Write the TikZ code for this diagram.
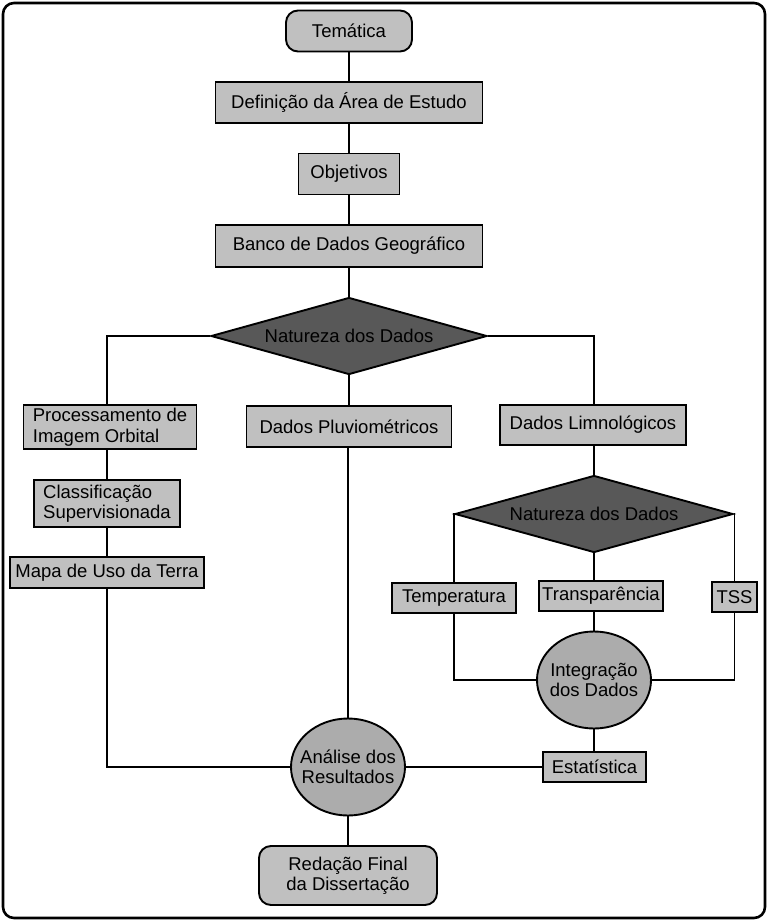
\documentclass[tikz,border=0pt]{standalone}
\usepackage{fontspec}
\setmainfont{Liberation Sans}
\usetikzlibrary{shapes.geometric}
\definecolor{boxgray}{RGB}{192,192,192}
\definecolor{ellgray}{RGB}{172,172,172}
\definecolor{diagray}{RGB}{88,88,88}

\tikzset{
  box/.style={draw, line width=1.9pt, fill=boxgray, inner sep=0pt, align=center,
    font=\fontsize{18.5}{20.5}\selectfont},
  term/.style={box, rounded corners=12pt},
  decision/.style={box, shape=diamond, fill=diagray, aspect=3.6},
  ellbox/.style={box, shape=ellipse, fill=ellgray, inner xsep=-9pt,
    minimum width=114pt, minimum height=97pt},
  conn/.style={line width=1.7pt}
}

\begin{document}
\begin{tikzpicture}[x=1pt, y=-1pt]
  \path[use as bounding box] (0, 0) rectangle (768, 921);
  \draw[line width=2.6pt, rounded corners=11pt] (3, 3) rectangle (765, 918);

  % central column
  \node[term, minimum width=126pt, minimum height=41pt] (tema) at (349, 31) {Temática};
  \node[box, minimum width=267pt, minimum height=41pt] (def) at (349, 102.5) {Definição da Área de Estudo};
  \node[box, minimum width=101pt, minimum height=41pt] (obj) at (349, 174) {Objetivos};
  \node[box, minimum width=267pt, minimum height=42pt] (banco) at (349, 246) {Banco de Dados Geográfico};
  \node[decision, minimum width=276pt, minimum height=77pt] (nat1) at (349, 336) {Natureza dos Dados};

  % left branch
  \node[box, align=left, minimum width=173pt, minimum height=44pt] (proc) at (110, 427) {Processamento de\\Imagem Orbital};
  \node[box, align=left, minimum width=146pt, minimum height=47pt] (clas) at (107, 503.5) {Classificação\\Supervisionada};
  \node[box, minimum width=194pt, minimum height=31pt] (mapa) at (107, 572.5) {Mapa de Uso da Terra};

  % middle branch
  \node[box, minimum width=205pt, minimum height=41pt] (pluv) at (349, 426.5) {Dados Pluviométricos};

  % right branch
  \node[box, minimum width=186pt, minimum height=40pt] (limn) at (593, 425) {Dados Limnológicos};
  \node[decision, minimum width=278pt, minimum height=77pt] (nat2) at (594, 514) {Natureza dos Dados};
  \node[box, minimum width=124pt, minimum height=30pt] (temp) at (454, 598) {Temperatura};
  \node[box, minimum width=124pt, minimum height=30pt] (trans) at (601, 596) {Transparência};
  \node[box, minimum width=45pt, minimum height=30pt] (tss) at (734.5, 597) {TSS};
  \node[ellbox] (integ) at (594, 680) {Integração\\dos Dados};
  \node[box, minimum width=103pt, minimum height=30pt] (est) at (594.5, 767) {Estatística};

  % bottom
  \node[ellbox] (ana) at (348, 767) {Análise dos\\Resultados};
  \node[term, minimum width=178pt, minimum height=59pt] (red) at (348, 875.5) {Redação Final\\da Dissertação};

  % connectors
  \draw[conn] (tema) -- (def);
  \draw[conn] (def) -- (obj);
  \draw[conn] (obj) -- (banco);
  \draw[conn] (banco) -- (nat1);
  \draw[conn] (nat1.west) -| (clas.north |- proc.north);
  \draw[conn] (clas.north |- proc.south) -- (clas.north);
  \draw[conn] (clas) -- (mapa);
  \draw[conn] (mapa.south) |- (ana.west);
  \draw[conn] (nat1) -- (pluv);
  \draw[conn] (pluv.south -| ana.north) -- (ana.north);
  \draw[conn] (nat1.east) -| (nat2.north |- limn.north);
  \draw[conn] (nat2.north |- limn.south) -- (nat2.north);
  \draw[conn] (nat2.west) -| (temp.north);
  \draw[conn] (nat2.east) -| (tss.north);
  \draw[conn] (nat2.south) -- (nat2.south |- trans.north);
  \draw[conn] (nat2.south |- trans.south) -- (integ.north);
  \draw[conn] (temp.south) |- (integ.west);
  \draw[conn] (tss.south) |- (integ.east);
  \draw[conn] (integ.south) -- (integ.south |- est.north);
  \draw[conn] (est.west) -- (ana.east);
  \draw[conn] (ana) -- (red);
\end{tikzpicture}
\end{document}
